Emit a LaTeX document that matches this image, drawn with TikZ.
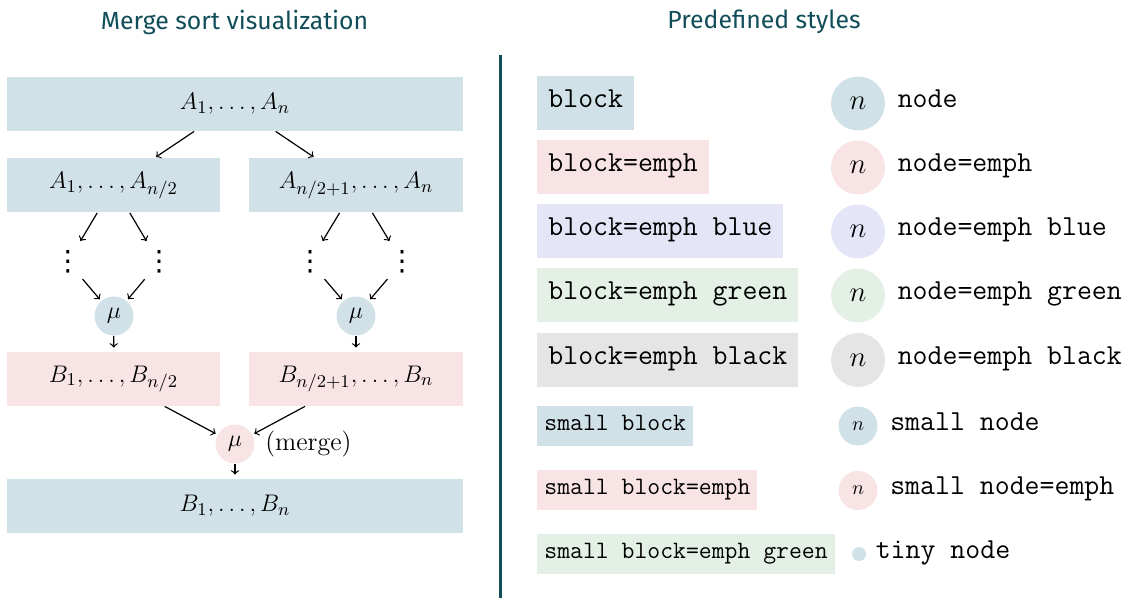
\documentclass[tikz,border=0pt]{standalone}
\usepackage{fontspec}
\newfontfamily\headfont{Fira Sans}
\newfontfamily\symfont{DejaVu Sans}
\usetikzlibrary{positioning}
\definecolor{headteal}{RGB}{17,77,88}
\definecolor{fillblue}{RGB}{209,225,232}
\definecolor{fillpink}{RGB}{248,228,228}
\definecolor{filllav}{RGB}{229,229,248}
\definecolor{fillgreen}{RGB}{228,240,229}
\definecolor{fillgray}{RGB}{229,229,229}
\tikzset{
    heading/.style = {font=\headfont\fontsize{12.4}{14}\selectfont, text=headteal},
    block/.style = {fill=fillblue, inner sep=0pt, minimum height=27pt},
    tblock/.style = {block, anchor=west, inner xsep=5.5pt, text height=0.62em, text depth=0.2em,
        font=\ttfamily\fontsize{14.5}{17}\selectfont},
    sblock/.style = {tblock, minimum height=20pt, inner xsep=3.5pt, font=\ttfamily\fontsize{12.5}{15}\selectfont},
    disc/.style = {circle, fill=fillblue, inner sep=0pt, minimum size=27pt, font=\fontsize{14}{16}\selectfont},
    sdisc/.style = {disc, minimum size=19.5pt, font=\fontsize{10}{12}\selectfont},
    tdisc/.style = {disc, minimum size=7pt},
    tag/.style = {anchor=west, inner sep=0pt, text height=0.62em, text depth=0.2em,
        font=\ttfamily\fontsize{14.5}{17}\selectfont},
    dots/.style = {circle, inner sep=0pt, minimum size=22pt, font=\symfont\fontsize{14}{14}\selectfont},
    link/.style = {->, semithick, shorten >=1pt}
}
\begin{document}
\begin{tikzpicture}[x=0.5pt, y=-0.5pt]
    \useasboundingbox (0,0) rectangle (1132,598);
    \node[heading] (h1) at (234.5,22) {Merge sort visualization};
    \node[heading] (h2) at (764,22) {Predefined styles};
    \draw[headteal, line width=1.5pt] (500,55) -- (500,598);

    % merge sort
    \begin{scope}[font=\fontsize{12.5}{15}\selectfont, sdisc/.append style={font=\fontsize{12}{14}\selectfont}]
        \node[block, minimum width=228pt] (a) at (235,104) {$A_1, \ldots, A_n$};
        \node[block, minimum width=106.5pt] (al) at (113.5,185.5) {$A_1, \ldots, A_{n/2}$};
        \node[block, minimum width=107pt] (ar) at (356,185.5) {$A_{n/2+1}, \ldots, A_n$};
        \node[dots] (d1) at (68,262) {⋮};
        \node[dots] (d2) at (159,262) {⋮};
        \node[dots] (d3) at (310,262) {⋮};
        \node[dots] (d4) at (402,262) {⋮};
        \node[sdisc] (ml) at (114,316) {$\mu$};
        \node[sdisc] (mr) at (356,316) {$\mu$};
        \node[block, fill=fillpink, minimum width=106.5pt] (bl) at (113.5,379) {$B_1, \ldots, B_{n/2}$};
        \node[block, fill=fillpink, minimum width=107pt] (br) at (356,379) {$B_{n/2+1}, \ldots, B_n$};
        \node[sdisc, fill=fillpink] (m) at (235,444) {$\mu$};
        \node[right=5pt of m, inner sep=0pt, font=\fontsize{13}{15}\selectfont] (mtxt) {(merge)};
        \node[block, minimum width=228pt] (b) at (235,506) {$B_1, \ldots, B_n$};
    \end{scope}
    \draw[link] (a) -- (al);
    \draw[link] (a) -- (ar);
    \draw[link] (al) -- (d1);
    \draw[link] (al) -- (d2);
    \draw[link] (ar) -- (d3);
    \draw[link] (ar) -- (d4);
    \draw[link] (d1) -- (ml);
    \draw[link] (d2) -- (ml);
    \draw[link] (d3) -- (mr);
    \draw[link] (d4) -- (mr);
    \draw[link, shorten >=2pt] (ml) -- (bl);
    \draw[link, shorten >=2pt] (mr) -- (br);
    \draw[link] (bl) -- (m);
    \draw[link] (br) -- (m);
    \draw[link, shorten >=2pt] (m) -- (b);

    % styles
    \foreach \y/\c/\s [count=\i] in {103.5/fillblue/{}, 167.5/fillpink/=emph, 231.5/filllav/=emph blue,
        295.5/fillgreen/=emph green, 360/fillgray/=emph black} {
        \node[tblock, fill=\c] (bk\i) at (537,\y) {block\s};
        \node[disc, fill=\c] (nd\i) at (858,\y) {$n$};
        \node[tag, right=6pt of nd\i] (nt\i) {node\s};
    }
    \node[sblock] (sb1) at (537,426) {small block};
    \node[sblock, fill=fillpink] (sb2) at (537,490.5) {small block=emph};
    \node[sblock, fill=fillgreen] (sb3) at (537,554.5) {small block=emph green};
    \node[sdisc] (sn1) at (858,426) {$n$};
    \node[tag, right=6pt of sn1] (st1) {small node};
    \node[sdisc, fill=fillpink] (sn2) at (858,490.5) {$n$};
    \node[tag, right=6pt of sn2] (st2) {small node=emph};
    \node[tdisc] (tn) at (859,554) {};
    \node[tag, right=4.5pt of tn] (tt) {tiny node};
\end{tikzpicture}
\end{document}
